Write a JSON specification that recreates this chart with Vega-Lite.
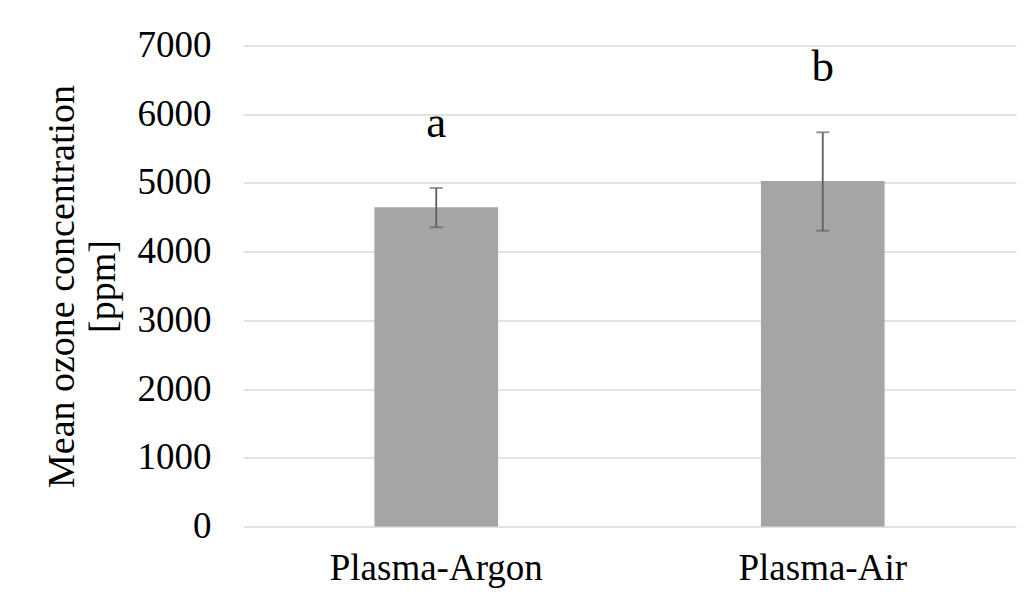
{
  "$schema": "https://vega.github.io/schema/vega-lite/v6.json",
  "autosize": {"type": "none"},
  "width": 773,
  "height": 481,
  "padding": {"left": 243, "top": 45.5, "right": 17, "bottom": 72.5},
  "background": "white",
  "config": {
    "font": "Liberation Serif",
    "view": {"stroke": null},
    "axis": {"labelFont": "Liberation Serif", "titleFont": "Liberation Serif"},
    "text": {"font": "Liberation Serif"}
  },
  "data": {
    "values": [
      {"group": "Plasma-Argon", "mean": 4646, "lo": 4354, "hi": 4926, "letter": "a"},
      {"group": "Plasma-Air", "mean": 5028, "lo": 4305, "hi": 5737, "letter": "b"}
    ]
  },
  "encoding": {
    "x": {
      "field": "group",
      "type": "nominal",
      "sort": null,
      "scale": {"paddingInner": 0.68, "paddingOuter": 0.34},
      "axis": {
        "title": null,
        "labelAngle": 0,
        "labelFont": "Liberation Serif",
        "labelFontSize": 37,
        "labelColor": "black",
        "labelPadding": 24,
        "labelLimit": 0,
        "ticks": false,
        "domain": false
      }
    }
  },
  "layer": [
    {
      "mark": {"type": "bar", "color": "#A5A5A5"},
      "encoding": {
        "y": {
          "field": "mean",
          "type": "quantitative",
          "scale": {"domain": [0, 7000], "nice": false},
          "axis": {
            "values": [0, 1000, 2000, 3000, 4000, 5000, 6000, 7000],
            "format": "d",
            "title": ["Mean ozone concentration", "[ppm]"],
            "titleFont": "Liberation Serif",
            "titleFontSize": 38,
            "titleFontWeight": "normal",
            "titleColor": "black",
            "titleLineHeight": 41,
            "titlePadding": 15,
            "labelFont": "Liberation Serif",
            "labelFontSize": 37,
            "labelColor": "black",
            "labelPadding": 32,
            "ticks": false,
            "domain": false,
            "grid": true,
            "gridColor": "#D9D9D9",
            "gridWidth": 1.5
          }
        }
      }
    },
    {
      "mark": {"type": "rule", "color": "#5F5F5F", "strokeWidth": 1.8},
      "encoding": {
        "y": {"field": "lo", "type": "quantitative"},
        "y2": {"field": "hi"}
      }
    },
    {
      "mark": {"type": "tick", "color": "#5F5F5F", "orient": "horizontal", "size": 13, "thickness": 1.8},
      "encoding": {
        "y": {"field": "lo", "type": "quantitative"}
      }
    },
    {
      "mark": {"type": "tick", "color": "#5F5F5F", "orient": "horizontal", "size": 13, "thickness": 1.8},
      "encoding": {
        "y": {"field": "hi", "type": "quantitative"}
      }
    },
    {
      "mark": {"type": "text", "font": "Liberation Serif", "fontSize": 45, "color": "black", "baseline": "alphabetic", "dy": -51},
      "encoding": {
        "y": {"field": "hi", "type": "quantitative"},
        "text": {"field": "letter"}
      }
    }
  ]
}
